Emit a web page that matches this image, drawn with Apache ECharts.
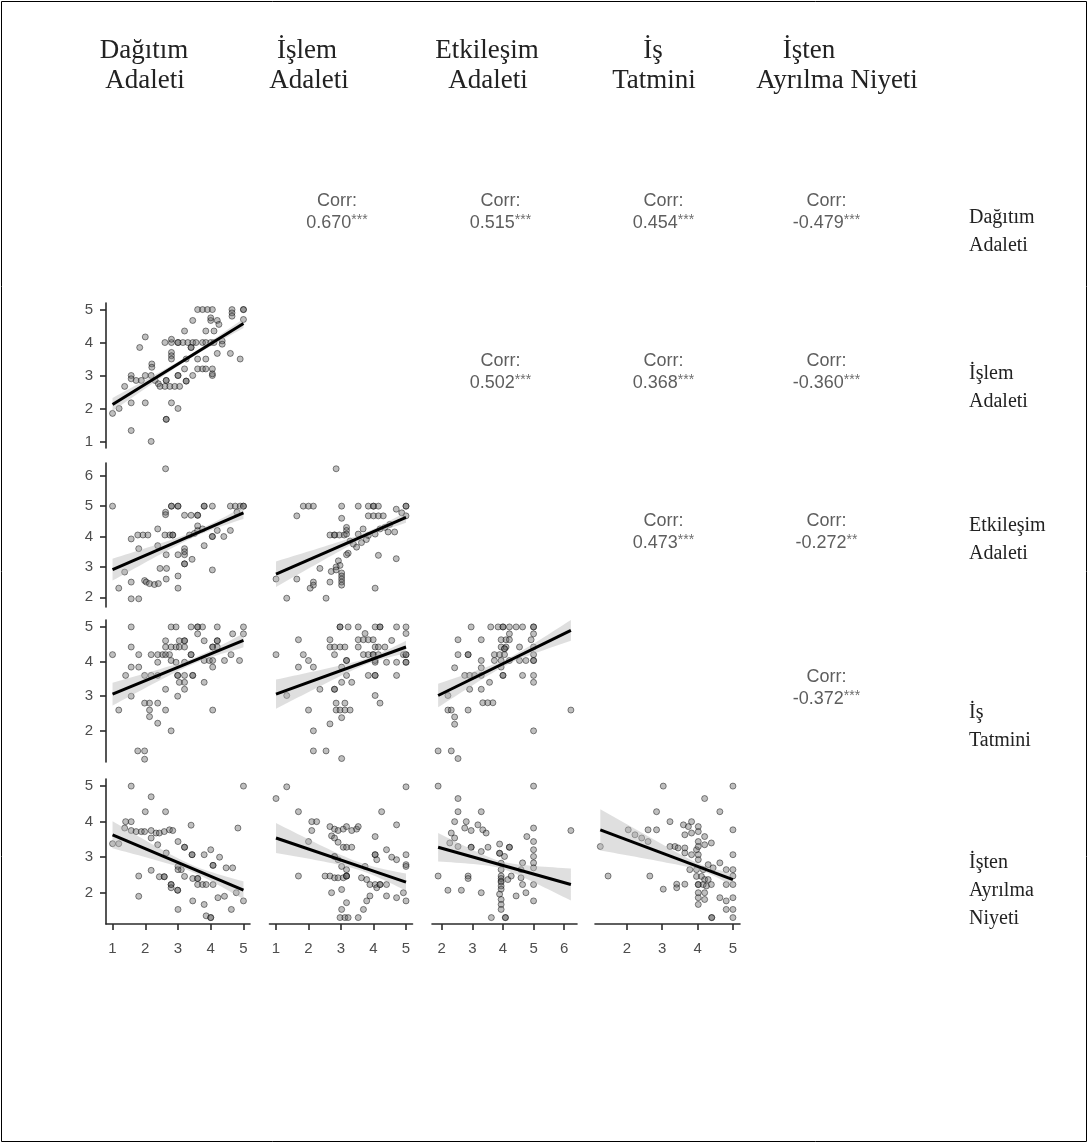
<!DOCTYPE html>
<html>
<head>
<meta charset="utf-8">
<script src="https://cdn.jsdelivr.net/npm/echarts@6.0.0/dist/echarts.min.js"></script>
<style>
  html, body { margin: 0; padding: 0; background: #ffffff; }
  #chart { width: 1089px; height: 1144px; }
</style>
</head>
<body>
<div id="chart"></div>
<script>
// Variables of the pairs matrix (rows and columns share the same order)
const varHeaderLines = [['Dağıtım', 'Adaleti'], ['İşlem', 'Adaleti'], ['Etkileşim', 'Adaleti'], ['İş', 'Tatmini'], ['İşten', 'Ayrılma Niyeti']];
const varRowLines = [['Dağıtım', 'Adaleti'], ['İşlem', 'Adaleti'], ['Etkileşim', 'Adaleti'], ['İş', 'Tatmini'], ['İşten', 'Ayrılma', 'Niyeti']];

// Axis extents and tick labels per variable
const axisMin = [0.8, 0.8, 1.68, 1.1, 1.12];
const axisMax = [5.2, 5.2, 6.42, 5.2, 5.2];
const tickValues = [[1, 2, 3, 4, 5], [1, 2, 3, 4, 5], [2, 3, 4, 5, 6], [2, 3, 4, 5], [2, 3, 4, 5]];

// Upper triangle: correlation coefficients with significance stars
const corrRows = [0, 0, 0, 0, 1, 1, 1, 2, 2, 3];
const corrCols = [1, 2, 3, 4, 2, 3, 4, 3, 4, 4];
const corrValues = ['0.670', '0.515', '0.454', '-0.479', '0.502', '0.368', '-0.360', '0.473', '-0.272', '-0.372'];
const corrStars = ['***', '***', '***', '***', '***', '***', '***', '***', '**', '***'];

// Lower triangle scatter data: [x, y]
const ptsIslemDagitim = [
  [3.6,5],[3.75,5],[3.9,5],[4.05,5],[4.65,5],[5,5],[5,5],
  [4.65,4.9],[3.45,4.67],[4,4.67],[4,4.75],[4.2,4.67],[4.25,4.55],[4.65,4.8],[5,4.7],
  [3.2,4.35],[3.85,4.35],[4.1,4.35],[2,4.17],
  [2.6,4],[2.8,4],[2.8,4.1],[3,4],[3,4],[3.15,4],[3.3,4],[3.45,4],[3.55,4],[3.75,4],[3.85,4],[4,4],[4.1,4],[4.35,4.05],[4.35,3.95],
  [3.4,3.85],[3.4,3.85],[1.83,3.85],[4.2,3.67],[4.6,3.67],[4.9,3.5],
  [2.8,3.7],[2.8,3.6],[2.8,3.5],[3.6,3.5],[3.85,3.5],[3.25,3.5],
  [2.2,3.35],[2.2,3.25],[3.2,3.2],[3.6,3.2],[3.75,3.2],[3.85,3.2],[4.05,3.2],[4.05,3],[4.05,3.05],
  [1.57,3],[1.57,2.9],[1.72,2.85],[1.88,2.85],[2,3],[2.18,3],
  [2.3,2.85],[2.4,2.75],[2.45,2.67],[2.6,2.67],[2.75,2.67],[2.9,2.67],[3.05,2.67],
  [2.64,2.85],[2.64,2.85],[3,3],[3,3],[3.25,2.83],[3.25,2.83],[3.45,3],
  [1.37,2.67],[1.57,2.17],[2,2.17],[2.8,2.17],[3,2],[1,1.85],[1.2,2],
  [2.64,1.67],[2.64,1.67],[1.57,1.33],[2.18,1]
];
const ptsEtkDagitim = [
  [1,5],[1.19,2.3],[1.37,2.83],[1.57,3.92],[1.57,2.5],[1.77,4.05],[1.93,4.05],[2.08,4.05],[1.8,3.6],[1.57,1.95],[1.8,1.95],
  [1.98,2.55],[2.03,2.5],[2.13,2.45],[2.28,2.42],[2.4,2.45],
  [2.38,4.25],[2.38,3.7],[2.62,6.23],[2.62,4.8],[2.62,4.72],[2.6,4.05],[2.75,4.05],[2.45,2.95],[2.65,2.95],[2.64,3.4],[2.64,2.6],
  [2.8,5],[2.8,5],[3,5],[3,5],[2.84,4.05],[2.84,4.05],[3,2.7],[3,2.3],[3,3.4],[3.2,3.4],[3.2,3.1],[3.2,3.1],[3.2,3.6],[3.2,3.5],
  [3.2,4.7],[3.4,4.7],[3.6,4.7],[3.6,4.7],[3.35,4.05],[3.5,4.1],[3.6,4.2],[3.75,4.25],[3.43,3.25],[3.6,4.35],
  [3.8,5],[3.8,5],[4.05,5],[3.8,3.7],[4.05,4],[4.05,4],[4.05,2.9],[4.2,4.2],[4.4,4],[4.6,4.2],
  [4.6,5],[4.75,5],[4.9,5],[5,5],[5,5],[4.8,4.8]
];
const ptsEtkIslem = [
  [2.85,6.23],[1.84,5],[2,5],[2.15,5],[3.02,5],[3.53,5],[3.84,5],[4,5],[4,5],[4.15,5],[5,5],[5,5],
  [1.64,4.68],[3.02,4.6],[3.84,4.68],[4,4.68],[4.15,4.68],[4.3,4.68],[4.7,4.9],[4.87,4.78],[5,4.68],
  [3.17,4.3],[3.17,4.2],[2.66,4.05],[2.8,4.05],[2.95,4.05],[3.1,4.05],[3.17,4.08],[2.8,4.05],
  [3.53,4.08],[3.68,4.25],[3.84,4.03],[4.05,4.08],[4.2,4.25],[4.35,4.3],[4.5,4.4],[4.45,4.15],[4.65,4.15],
  [3.28,3.85],[3.38,3.75],[3.48,3.65],[3.63,3.8],[3.78,3.9],
  [3.22,3.45],[3.17,3.4],[4.15,3.38],[4.7,3.27],[2.92,3.2],[2.97,3.05],[2.85,3],
  [2.35,2.95],[2.7,2.85],[2.85,2.9],[3.02,2.8],[3.02,2.7],[3.02,2.6],[3.02,2.5],[3.02,2.4],
  [1.64,2.6],[2.15,2.5],[2.15,2.4],[2.05,2.3],[2.66,2.5],[4.05,2.3],[1.33,1.97],[2.54,1.97],[1,2.6]
];
const ptsTatDagitim = [
  [1,4.2],[1.19,2.6],[1.57,5],[1.57,4.42],[1.57,3.84],[1.8,3.84],[1.4,3.6],[1.57,3],[1.8,4.2],
  [1.77,1.42],[1.98,1.42],[1.98,1.18],
  [1.98,2.8],[2.13,2.8],[2.38,2.8],[2.13,2.6],[2.13,2.41],[2.38,2.22],
  [1.98,3.6],[2.18,3.6],[2.38,3.6],[2.18,4.2],[2.38,4.2],[2.53,4.2],[2.38,3.98],
  [2.62,4.6],[2.62,4.42],[2.79,4.42],[2.94,4.42],[3.04,4.42],[3.2,4.42],[2.62,4.2],[2.74,4.2],
  [2.79,5],[2.94,5],[3.4,5],[3.6,5],[3.6,5],[3.75,5],[4.2,5],[5,5],
  [3.2,4.6],[3.2,4.6],[3.04,4.6],[2.62,3.2],[2.62,2.6],[2.79,2],
  [2.79,4.03],[2.94,3.98],[3.2,3.98],[3.4,4.2],[3.4,4.2],
  [2.99,3.6],[2.99,3.6],[3.2,3.6],[3.45,3.6],[3.45,3.6],[3.2,3.4],[3.04,3.4],[3.2,3.2],[2.99,3],
  [3.6,4.8],[3.8,4.6],[4.2,4.6],[4.2,4.6],[4.67,4.8],[5,4.8],
  [3.8,4.03],[3.96,4.03],[4.06,4.03],[4.06,3.84],[4.06,4.42],[4.06,4.42],[4.2,4.42],
  [3.8,3.4],[4.42,4.03],[4.62,4.2],[4.88,4.03],[4.06,2.6]
];
const ptsTatIslem = [
  [1,4.2],[1.33,3.02],[1.69,4.63],[1.69,3.84],[1.84,4.2],[2,4.03],[2.15,3.84],[2,2.6],[2.15,2],[2.15,1.42],[2.54,1.42],[3.02,1.2],
  [2.66,2.2],[3.02,2.38],[2.85,2.8],[3.12,2.8],[2.85,2.6],[2.97,2.6],[3.12,2.6],[3.28,2.6],[2.35,3.2],[2.66,4.63],
  [2.66,4.42],[2.8,4.42],[2.97,4.42],[3.12,4.42],
  [2.97,5],[2.97,5],[3.22,5],[3.53,5],[4.05,5],[4.2,5],[4.2,5],[4.71,5],[5,5],
  [2.8,4.2],[3.17,4.03],[3.17,4.03],[3.02,3.84],[3.17,3.6],[3.33,3.4],[3.02,3.4],[2.8,3.2],[2.8,3.2],
  [3.53,4.63],[3.69,4.63],[3.84,4.63],[3.99,4.63],[3.74,4.81],
  [3.53,4.42],[4.05,4.42],[4.15,4.42],[4.35,4.42],
  [3.69,4.2],[3.84,4.2],[3.99,4.2],[3.99,4.2],[4.15,4.2],[4.92,4.2],[5,4.2],[5,4.2],
  [4.05,4.03],[4.05,3.98],[4.4,3.98],[4.71,3.98],[5,3.98],[5,3.98],
  [3.84,3.6],[4.05,3.6],[4.05,3.6],[4.71,3.6],
  [4.05,3.02],[4.2,2.8],[4.56,4.61],[5,4.81]
];
const ptsTatEtk = [
  [2.96,5],[3.6,5],[3.84,5],[4,5],[4,5],[4.21,5],[4.43,5],[4.64,5],[5,5],[5,5],
  [5,4.8],[4.21,4.8],
  [2.53,4.63],[3.29,4.63],[3.94,4.63],[4.1,4.63],[4.21,4.63],[4.92,4.63],
  [3.94,4.42],[4.1,4.42],[4.05,4.37],[4.05,4.37],[4.54,4.42],[5,4.42],
  [2.53,4.2],[2.86,4.2],[2.86,4.2],[3.72,4.2],[3.89,4.2],[4.05,4.2],[5,4.2],[5,4.03],[5,4.03],
  [3.29,4.03],[3.72,4.03],[3.94,4.03],[4.21,4.03],[4.54,4.03],[4.75,4.03],
  [2.42,3.82],[3.29,3.82],[3.94,3.84],[4,3.6],[4,3.6],
  [2.75,3.6],[2.91,3.6],[3.07,3.6],[3.29,3.6],[4.64,3.6],[5,3.6],
  [5,3.4],[3.56,3.4],[2.91,3.2],[3.29,3.2],[2.2,3.02],
  [3.34,2.81],[3.67,2.81],[3.5,2.81],
  [2.2,2.6],[2.31,2.6],[2.86,2.6],[6.22,2.6],[2.42,2.4],[2.42,2.19],[5,2],
  [1.88,1.42],[2.31,1.42],[2.53,1.2]
];
const ptsNiyetDagitim = [
  [1,3.38],[1.19,3.38],[1.57,5],[1.4,4],[1.57,4],[1.37,3.82],[1.57,3.75],[1.72,3.72],[1.88,3.72],[1.98,3.72],
  [2.18,4.7],[2,4.28],[2.62,4.28],
  [2.18,3.75],[2.18,3.54],[2.33,3.68],[2.43,3.68],[2.58,3.72],[2.74,3.77],[2.84,3.75],
  [2.38,3.35],[2.64,3.12],
  [1.8,2.47],[1.8,1.9],[2.18,2.63],[2.43,2.45],[2.58,2.45],[2.58,2.45],
  [2.79,2.23],[2.79,2.23],[2.99,2.07],[2.99,2.07],[2.79,2.14],
  [3,3.44],[3.2,3.28],[3.2,3.28],[3,2.74],[3.1,2.65],[3.2,2.46],[3,2.65],[3,1.53],
  [3.4,3.9],[3.43,3.07],[3.43,3.07],
  [3.45,2.4],[3.6,2.4],[3.6,2.4],[3.6,2.23],[3.75,2.23],[3.86,2.23],[3.45,1.77],
  [3.8,3.07],[4,3.21],[4.27,3],
  [3.8,1.67],[4.07,2.77],[4.07,2.77],[3.86,1.35],[4,1.3],[4,1.3],
  [4.07,2.23],[4.22,1.86],[4.42,1.9],[4.47,2.7],[4.67,2.7],
  [4.63,1.53],[4.83,3.82],[5,5],[5,1.77],[4.78,2]
];
const ptsNiyetIslem = [
  [1,4.65],[1.33,4.98],[1.69,4.28],[1.69,2.47],[2.1,4],[2.25,4],[2.1,3.75],[2,3.44],
  [2.66,3.86],[2.8,3.79],[2.91,3.75],[3.07,3.79],[3.17,3.86],[3.33,3.75],[3.48,3.79],[3.53,3.86],
  [2.71,3.6],[2.8,3.54],[2.91,3.42],[3.07,3.28],[3.17,3.28],[3.33,3.28],
  [2.8,3.02],[2.8,3.02],[2.91,2.93],[3.02,2.74],[3.17,2.65],[3.17,2.47],
  [2.51,2.47],[2.66,2.47],[2.8,2.42],[2.91,2.42],[3.07,2.42],[3.17,2.47],[3.17,2.47],
  [2.71,2],[3.02,2.09],[3.17,1.72],[3.02,1.53],[2.97,1.3],[3.12,1.3],[3.22,1.3],[3.53,1.3],
  [3.69,1.53],[3.79,1.77],
  [3.63,2.42],[3.79,2.37],[3.89,2.23],[4.05,2.23],[4.1,2.14],[4.2,2.23],[4.2,2.23],[4.4,2.23],
  [4.05,3.58],[4.05,3.07],[4.05,3.07],[4.1,2.93],[4.4,3.21],[4.56,3],[4.71,2.93],
  [3.74,2.74],[4.25,4.28],[4.71,3.91],[5,4.98],
  [5,3.07],[5,2.79],[5,2.74],
  [4.4,1.91],[4.71,1.86],[4.92,2],[5,1.77],[3.89,1.91]
];
const ptsNiyetEtk = [
  [1.88,5],[2.53,4.65],[2.53,4.28],[3.29,4.28],
  [2.42,4],[2.8,4],[2.96,3.75],[3.18,3.91],[2.75,3.82],[3.34,3.77],[3.45,3.68],
  [2.31,3.68],[2.42,3.54],[2.26,3.4],[2.53,3.3],
  [2.96,3.28],[2.96,3.28],[3.29,3.16],[3.51,3.28],[3.89,3.37],
  [3.89,3.11],[3.89,3.11],[4.05,3.02],[4.21,3.28],[4.21,3.28],
  [1.88,2.47],[2.86,2.47],[2.86,2.4],[2.2,2.07],[2.64,2.07],[3.29,2],
  [3.94,2.83],[3.94,2.65],[3.94,2.47],[3.94,2.33],[3.94,2.19],[3.94,2.1],[3.89,1.96],[3.94,1.81],[3.94,1.67],[3.94,1.53],[3.62,1.3],[4.08,1.3],[4.08,1.3],
  [3.94,2.4],[3.94,2.3],
  [4.16,2.37],[4.27,2.47],[4.43,1.91],[4.59,2.42],[4.64,2.23],[4.75,2],
  [5,5],[5,3.82],[5,3.44],[4.78,3.58],[5,3.21],[5,3.02],[5,2.84],[5,2.7],[5,2.23],[5,1.77],
  [6.22,3.75],[4.64,2.84],[4.59,2.65]
];
const ptsNiyetTat = [
  [1.25,3.3],[1.47,2.47],[2.04,3.77],[2.6,3.77],[2.84,3.77],[2.23,3.63],[2.42,3.54],[2.6,3.44],
  [2.84,4.28],[2.65,2.47],[3.03,5],[3.03,2.1],[3.22,4],
  [3.22,3.3],[3.36,3.3],[3.45,3.26],[3.64,3.26],
  [3.41,2.24],[3.41,2.14],[3.64,2.24],
  [3.6,3.91],[3.74,3.86],[3.83,4],[4.02,3.86],[4.02,3.72],[3.83,3.68],[3.64,3.63],
  [3.64,3.12],[3.83,3.07],[3.97,3.21],[4.02,3.07],[4.02,2.93],
  [4.2,4.65],[4.2,3.58],[4.02,3.44],[4.02,3.3],[4.2,3.35],[4.39,3.4],
  [3.78,2.65],[3.97,2.65],[4.16,2.65],[4.3,2.79],[4.44,2.7],
  [3.97,2.46],[4.11,2.46],[4.2,2.37],[4.3,2.37],[4.39,2.23],[4.02,2.23],[4.02,2.23],[4.16,2.23],[4.25,2.19],
  [4.02,2],[4.2,2],[4.02,1.86],[4.2,1.81],[4.02,1.67],
  [4.4,1.3],[4.4,1.3],[4.63,4.28],[4.63,2.84],[4.63,1.86],
  [4.81,2.65],[4.81,2.23],
  [5,5],[5,3.77],[5,3.07],[5,2.65],[5,2.47],[5,2.23],[5,1.86],[5,1.53],[5,1.3],
  [4.81,1.77],[4.81,1.53]
];

// Fitted regression lines: [[xStart, yStart], [xEnd, yEnd]]
const fitIslemDagitim = [[1, 2.12], [5, 4.58]];
const fitEtkDagitim = [[1, 2.91], [5, 4.78]];
const fitEtkIslem = [[1, 2.76], [5, 4.63]];
const fitTatDagitim = [[1, 3.06], [5, 4.61]];
const fitTatIslem = [[1, 3.06], [5, 4.42]];
const fitTatEtk = [[1.88, 3.02], [6.22, 4.9]];
const fitNiyetDagitim = [[1, 3.63], [5, 2.07]];
const fitNiyetIslem = [[1, 3.54], [5, 2.3]];
const fitNiyetEtk = [[1.88, 3.28], [6.22, 2.23]];
const fitNiyetTat = [[1.25, 3.77], [5, 2.37]];

// Confidence band half-widths: [x, halfWidth] at start, centre, end of each fit
const bandIslemDagitim = [[1, 0.2], [3.3, 0.06], [5, 0.14]];
const bandEtkDagitim = [[1, 0.36], [3.3, 0.1], [5, 0.2]];
const bandEtkIslem = [[1, 0.42], [3.5, 0.1], [5, 0.18]];
const bandTatDagitim = [[1, 0.33], [3.3, 0.09], [5, 0.2]];
const bandTatIslem = [[1, 0.42], [3.5, 0.1], [5, 0.18]];
const bandTatEtk = [[1.88, 0.34], [3.9, 0.1], [6.22, 0.3]];
const bandNiyetDagitim = [[1, 0.38], [3.3, 0.1], [5, 0.25]];
const bandNiyetIslem = [[1, 0.42], [3.5, 0.11], [5, 0.24]];
const bandNiyetEtk = [[1.88, 0.4], [3.9, 0.1], [6.22, 0.45]];
const bandNiyetTat = [[1.25, 0.58], [3.9, 0.1], [5, 0.18]];

// Panel layout (pixel boxes of the matrix cells)
const colLeft = [106, 269.5, 432, 595, 758];
const colWidth = [144, 143, 145, 145, 145];
const rowTop = [143, 303, 463, 620, 779];
const rowHeight = [145, 145, 144, 142, 145];

const panels = [
  { row: 1, col: 0, points: ptsIslemDagitim, fit: fitIslemDagitim, band: bandIslemDagitim },
  { row: 2, col: 0, points: ptsEtkDagitim, fit: fitEtkDagitim, band: bandEtkDagitim },
  { row: 2, col: 1, points: ptsEtkIslem, fit: fitEtkIslem, band: bandEtkIslem },
  { row: 3, col: 0, points: ptsTatDagitim, fit: fitTatDagitim, band: bandTatDagitim },
  { row: 3, col: 1, points: ptsTatIslem, fit: fitTatIslem, band: bandTatIslem },
  { row: 3, col: 2, points: ptsTatEtk, fit: fitTatEtk, band: bandTatEtk },
  { row: 4, col: 0, points: ptsNiyetDagitim, fit: fitNiyetDagitim, band: bandNiyetDagitim },
  { row: 4, col: 1, points: ptsNiyetIslem, fit: fitNiyetIslem, band: bandNiyetIslem },
  { row: 4, col: 2, points: ptsNiyetEtk, fit: fitNiyetEtk, band: bandNiyetEtk },
  { row: 4, col: 3, points: ptsNiyetTat, fit: fitNiyetTat, band: bandNiyetTat }
];

const SANS = '"Liberation Sans", Arial, Helvetica, sans-serif';
const SERIF = '"Liberation Serif", "Times New Roman", Times, serif';

function axisSpec(v, show, gridIndex, isX) {
  return {
    type: 'value',
    gridIndex: gridIndex,
    min: axisMin[v],
    max: axisMax[v],
    axisLine: { show: show, onZero: false, lineStyle: { color: '#2b2b2b', width: 1.6 } },
    axisTick: { show: show, length: 6, customValues: tickValues[v], lineStyle: { color: '#2b2b2b', width: 1.6 } },
    axisLabel: { show: show, customValues: tickValues[v], color: '#4d4d4d', fontSize: 15, margin: isX ? 17 : 13, fontFamily: SANS },
    splitLine: { show: false }
  };
}

const grids = [], xAxes = [], yAxes = [], series = [];

panels.forEach(function (p, k) {
  grids.push({ left: colLeft[p.col], top: rowTop[p.row], width: colWidth[p.col], height: rowHeight[p.row] });
  xAxes.push(axisSpec(p.col, p.row === 4, k, true));
  yAxes.push(axisSpec(p.row, p.col === 0, k, false));

  series.push({
    type: 'scatter', xAxisIndex: k, yAxisIndex: k, data: p.points, symbolSize: 6, silent: true, z: 2,
    itemStyle: { color: 'rgba(95,95,95,0.5)', borderColor: 'rgba(10,10,10,0.6)', borderWidth: 1 }
  });

  // Shaded confidence band around the fitted line
  series.push({
    type: 'custom', xAxisIndex: k, yAxisIndex: k, data: p.band, silent: true, z: 3,
    encode: { x: 0, y: 1 },
    renderItem: function (params, api) {
      if (params.dataIndex !== 0) return null;
      const a = p.fit[0], b = p.fit[1], B = p.band;
      const yAt = function (x) { return a[1] + (b[1] - a[1]) * (x - a[0]) / (b[0] - a[0]); };
      const hAt = function (x) {
        let s = 0;
        for (let i = 0; i < 3; i++) {
          let term = B[i][1] * B[i][1];
          for (let j = 0; j < 3; j++) if (j !== i) term *= (x - B[j][0]) / (B[i][0] - B[j][0]);
          s += term;
        }
        return Math.sqrt(Math.max(s, 0));
      };
      const up = [], lo = [];
      const n = 30;
      for (let i = 0; i <= n; i++) {
        const x = a[0] + (b[0] - a[0]) * i / n;
        up.push(api.coord([x, yAt(x) + hAt(x)]));
        lo.push(api.coord([x, yAt(x) - hAt(x)]));
      }
      return { type: 'polygon', shape: { points: up.concat(lo.reverse()) }, style: { fill: 'rgba(185,185,185,0.45)' } };
    }
  });

  series.push({
    type: 'line', xAxisIndex: k, yAxisIndex: k, data: p.fit, symbol: 'none', silent: true, z: 4,
    lineStyle: { color: '#000000', width: 3 }
  });
});

// Text elements: headers, row labels, correlations, frame
const graphics = [];
graphics.push({ type: 'rect', shape: { x: 1.5, y: 1.5, width: 1085, height: 1140 }, style: { fill: 'none', stroke: '#000000', lineWidth: 1 }, silent: true });

const headerX = [[144, 145], [307, 309], [487, 488], [653, 654], [809, 837]];
varHeaderLines.forEach(function (lines, i) {
  lines.forEach(function (t, j) {
    graphics.push({
      type: 'text', x: headerX[i][j], y: 51 + j * 30,
      style: { text: t, font: '27px ' + SERIF, fill: '#222222', textAlign: 'center', textVerticalAlign: 'middle' }
    });
  });
});

const rowLabelY = [218, 374, 526, 713, 863];
varRowLines.forEach(function (lines, i) {
  lines.forEach(function (t, j) {
    graphics.push({
      type: 'text', x: 969, y: rowLabelY[i] + j * 28,
      style: { text: t, font: '20px ' + SERIF, fill: '#222222', textAlign: 'left', textVerticalAlign: 'middle' }
    });
  });
});

corrValues.forEach(function (v, i) {
  const r = corrRows[i], c = corrCols[i];
  const cx = colLeft[c] + colWidth[c] / 2 - 4;
  const cy = rowTop[r] + rowHeight[r] / 2;
  graphics.push({
    type: 'text', x: cx, y: cy - 14,
    style: { text: 'Corr:', font: '18px ' + SANS, fill: '#5e5e5e', textAlign: 'center', textVerticalAlign: 'middle' }
  });
  graphics.push({
    type: 'text', x: cx, y: cy + 8,
    style: {
      text: '{v|' + v + '}{s|' + corrStars[i] + '}',
      textAlign: 'center', textVerticalAlign: 'middle',
      rich: {
        v: { fontSize: 18, fontFamily: SANS, fill: '#5e5e5e', lineHeight: 20 },
        s: { fontSize: 14, fontFamily: SANS, fill: '#6e6e6e', lineHeight: 20, verticalAlign: 'top' }
      }
    }
  });
});

const chart = echarts.init(document.getElementById('chart'));
chart.setOption({
  animation: false,
  backgroundColor: '#ffffff',
  grid: grids,
  xAxis: xAxes,
  yAxis: yAxes,
  series: series,
  graphic: { elements: graphics }
});
</script>
</body>
</html>
